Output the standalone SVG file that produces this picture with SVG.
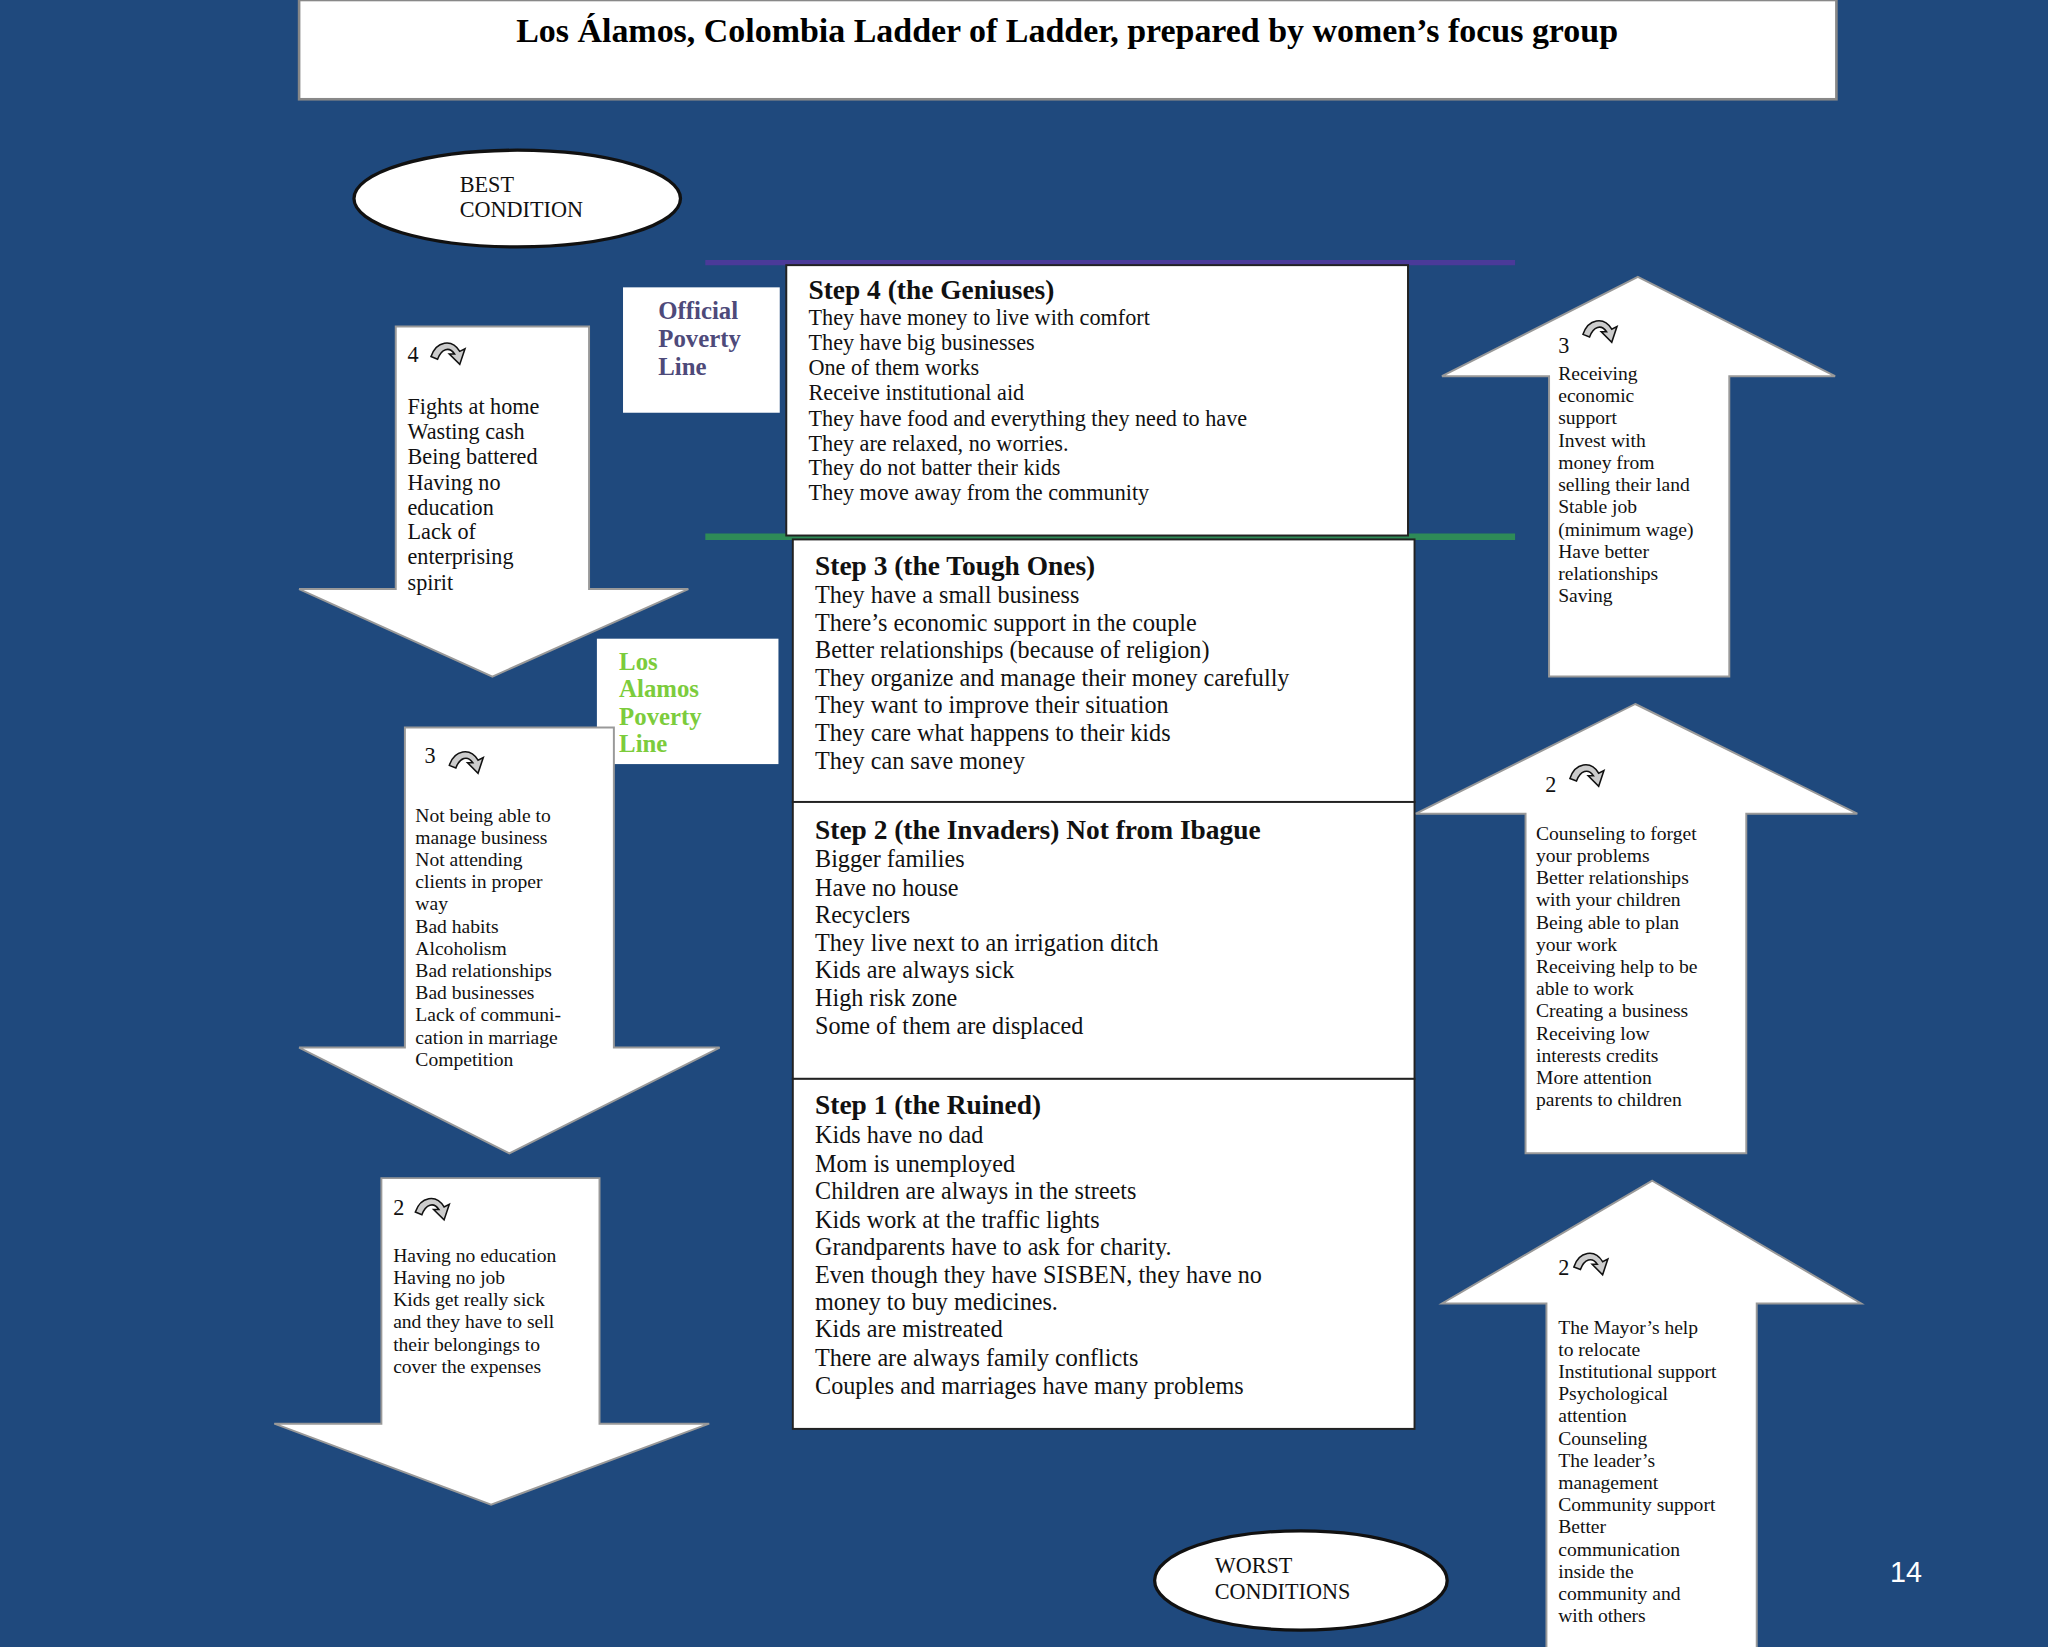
<svg xmlns="http://www.w3.org/2000/svg" width="2048" height="1647" viewBox="0 0 2048 1647">
<defs>
<style>
.t{font-family:"Liberation Serif",serif;fill:#111}
.s15{font-size:15px}.s17{font-size:17px}.s18{font-size:18.5px}
.h{font-size:21px;font-weight:bold}
.box{fill:#fff;stroke:#222;stroke-width:1.5}
.arr{fill:#fff;stroke:#999;stroke-width:1.5}
.ic{fill:#ccc;stroke:#111;stroke-width:1.2}
</style>
<g id="icon"><path class="ic" d="M0,8 C4,-4 16,-6 22,4 L26,2 L22,14 L14,6 L18,6 C14,0 8,2 5,10 Z"/></g>
</defs>
<rect width="2048" height="1647" fill="#1f497d"/>
<g transform="scale(1.30612)">
<g id="title"><rect x="229" y="0" width="1177" height="76" fill="#fff" stroke="#888" stroke-width="2"/>
<text x="817" y="32" text-anchor="middle" font-family="Liberation Serif,serif" font-weight="bold" font-size="26">Los Álamos, Colombia Ladder of Ladder, prepared by women’s focus group</text></g>
<g id="best"><ellipse cx="396" cy="152" rx="125" ry="37" fill="#fff" stroke="#111" stroke-width="2.5"/>
<text class="t s17" x="352" y="147">BEST</text><text class="t s17" x="352" y="166">CONDITION</text></g>
<g id="connectors">
<line x1="540" y1="201" x2="1160" y2="201" stroke="#4b3a99" stroke-width="4"/>
<line x1="540" y1="411" x2="1160" y2="411" stroke="#2e8b57" stroke-width="5"/>
</g>
<g id="step4"><rect class="box" x="602" y="203" width="476" height="207"/>
<text class="t h" x="619" y="229">Step 4 (the Geniuses)</text>
<text class="t s17"><tspan x="619" y="249">They have money to live with comfort</tspan><tspan x="619" y="268">They have big businesses</tspan><tspan x="619" y="287">One of them works</tspan><tspan x="619" y="306">Receive institutional aid</tspan><tspan x="619" y="326">They have food and everything they need to have</tspan><tspan x="619" y="345">They are relaxed, no worries.</tspan><tspan x="619" y="364">They do not batter their kids</tspan><tspan x="619" y="383">They move away from the community</tspan></text></g>
<g id="official"><rect x="477" y="220" width="120" height="96" fill="#fff"/>
<text font-family="Liberation Serif,serif" font-weight="bold" font-size="19" fill="#4e4a7a"><tspan x="504" y="244">Official</tspan><tspan x="504" y="266">Poverty</tspan><tspan x="504" y="287">Line</tspan></text></g>
<g id="step3"><rect class="box" x="607" y="413" width="476" height="201"/>
<text class="t h" x="624" y="440">Step 3 (the Tough Ones)</text>
<text class="t s18"><tspan x="624" y="462">They have a small business</tspan><tspan x="624" y="483">There’s economic support in the couple</tspan><tspan x="624" y="504">Better relationships (because of religion)</tspan><tspan x="624" y="525">They organize and manage their money carefully</tspan><tspan x="624" y="546">They want to improve their situation</tspan><tspan x="624" y="567">They care what happens to their kids</tspan><tspan x="624" y="589">They can save money</tspan></text></g>
<g id="step2"><rect class="box" x="607" y="614" width="476" height="212"/>
<text class="t h" x="624" y="642">Step 2 (the Invaders) Not from Ibague</text>
<text class="t s18"><tspan x="624" y="664">Bigger families</tspan><tspan x="624" y="686">Have no house</tspan><tspan x="624" y="707">Recyclers</tspan><tspan x="624" y="728">They live next to an irrigation ditch</tspan><tspan x="624" y="749">Kids are always sick</tspan><tspan x="624" y="770">High risk zone</tspan><tspan x="624" y="792">Some of them are displaced</tspan></text></g>
<g id="step1"><rect class="box" x="607" y="826" width="476" height="268"/>
<text class="t h" x="624" y="853">Step 1 (the Ruined)</text>
<text class="t s18"><tspan x="624" y="875">Kids have no dad</tspan><tspan x="624" y="897">Mom is unemployed</tspan><tspan x="624" y="918">Children are always in the streets</tspan><tspan x="624" y="940">Kids work at the traffic lights</tspan><tspan x="624" y="961">Grandparents have to ask for charity.</tspan><tspan x="624" y="982">Even though they have SISBEN, they have no</tspan><tspan x="624" y="1003">money to buy medicines.</tspan><tspan x="624" y="1024">Kids are mistreated</tspan><tspan x="624" y="1046">There are always family conflicts</tspan><tspan x="624" y="1067">Couples and marriages have many problems</tspan></text></g>
<g id="losalamos"><rect x="457" y="489" width="139" height="96" fill="#fff"/>
<text font-family="Liberation Serif,serif" font-weight="bold" font-size="19" fill="#7ccc3c"><tspan x="474" y="513">Los</tspan><tspan x="474" y="534">Alamos</tspan><tspan x="474" y="555">Poverty</tspan><tspan x="474" y="576">Line</tspan></text></g>
<g id="down1"><path class="arr" d="M303,250 H451 V451 H527 L377,518 L229,451 H303 Z"/>
<text class="t s17" x="312" y="277">4</text><use href="#icon" x="330" y="265"/>
<text class="t s17"><tspan x="312" y="317">Fights at home</tspan><tspan x="312" y="336">Wasting cash</tspan><tspan x="312" y="355">Being battered</tspan><tspan x="312" y="375">Having no</tspan><tspan x="312" y="394">education</tspan><tspan x="312" y="413">Lack of</tspan><tspan x="312" y="432">enterprising</tspan><tspan x="312" y="452">spirit</tspan></text></g>
<g id="down2"><path class="arr" d="M310,557 H470 V802 H551 L390,883 L229,802 H310 Z"/>
<text class="t s17" x="325" y="584">3</text><use href="#icon" x="344" y="578"/>
<text class="t s15"><tspan x="318" y="629">Not being able to</tspan><tspan x="318" y="646">manage business</tspan><tspan x="318" y="663">Not attending</tspan><tspan x="318" y="680">clients in proper</tspan><tspan x="318" y="697">way</tspan><tspan x="318" y="714">Bad habits</tspan><tspan x="318" y="731">Alcoholism</tspan><tspan x="318" y="748">Bad relationships</tspan><tspan x="318" y="765">Bad businesses</tspan><tspan x="318" y="782">Lack of communi-</tspan><tspan x="318" y="799">cation in marriage</tspan><tspan x="318" y="816">Competition</tspan></text></g>
<g id="down3"><path class="arr" d="M292,902 H459 V1090 H543 L376,1152 L210,1090 H292 Z"/>
<text class="t s17" x="301" y="930">2</text><use href="#icon" x="318" y="920"/>
<text class="t s15"><tspan x="301" y="966">Having no education</tspan><tspan x="301" y="983">Having no job</tspan><tspan x="301" y="1000">Kids get really sick</tspan><tspan x="301" y="1017">and they have to sell</tspan><tspan x="301" y="1034">their belongings to</tspan><tspan x="301" y="1051">cover the expenses</tspan></text></g>
<g id="up1"><path class="arr" d="M1254,212 L1405,288 H1324 V518 H1186 V288 H1104 Z"/>
<text class="t s17" x="1193" y="270">3</text><use href="#icon" x="1212" y="248"/>
<text class="t s15"><tspan x="1193" y="291">Receiving</tspan><tspan x="1193" y="308">economic</tspan><tspan x="1193" y="325">support</tspan><tspan x="1193" y="342">Invest with</tspan><tspan x="1193" y="359">money from</tspan><tspan x="1193" y="376">selling their land</tspan><tspan x="1193" y="393">Stable job</tspan><tspan x="1193" y="410">(minimum wage)</tspan><tspan x="1193" y="427">Have better</tspan><tspan x="1193" y="444">relationships</tspan><tspan x="1193" y="461">Saving</tspan></text></g>
<g id="up2"><path class="arr" d="M1252,539 L1422,623 H1337 V883 H1168 V623 H1084 Z"/>
<text class="t s17" x="1183" y="606">2</text><use href="#icon" x="1202" y="588"/>
<text class="t s15"><tspan x="1176" y="643">Counseling to forget</tspan><tspan x="1176" y="660">your problems</tspan><tspan x="1176" y="677">Better relationships</tspan><tspan x="1176" y="694">with your children</tspan><tspan x="1176" y="711">Being able to plan</tspan><tspan x="1176" y="728">your work</tspan><tspan x="1176" y="745">Receiving help to be</tspan><tspan x="1176" y="762">able to work</tspan><tspan x="1176" y="779">Creating a business</tspan><tspan x="1176" y="796">Receiving low</tspan><tspan x="1176" y="813">interests credits</tspan><tspan x="1176" y="830">More attention</tspan><tspan x="1176" y="847">parents to children</tspan></text></g>
<g id="up3"><path class="arr" d="M1265,904 L1425,998 H1345 V1265 H1184 V998 H1104 Z"/>
<text class="t s17" x="1193" y="976">2</text><use href="#icon" x="1205" y="962"/>
<text class="t s15"><tspan x="1193" y="1021">The Mayor’s help</tspan><tspan x="1193" y="1038">to relocate</tspan><tspan x="1193" y="1055">Institutional support</tspan><tspan x="1193" y="1072">Psychological</tspan><tspan x="1193" y="1089">attention</tspan><tspan x="1193" y="1106">Counseling</tspan><tspan x="1193" y="1123">The leader’s</tspan><tspan x="1193" y="1140">management</tspan><tspan x="1193" y="1157">Community support</tspan><tspan x="1193" y="1174">Better</tspan><tspan x="1193" y="1191">communication</tspan><tspan x="1193" y="1208">inside the</tspan><tspan x="1193" y="1225">community and</tspan><tspan x="1193" y="1242">with others</tspan></text></g>
<g id="worst"><ellipse cx="996" cy="1210" rx="112" ry="38" fill="#fff" stroke="#111" stroke-width="2.5"/>
<text class="t s17" x="930" y="1204">WORST</text><text class="t s17" x="930" y="1224">CONDITIONS</text></g>
<text x="1447" y="1211" font-family="Liberation Sans,sans-serif" font-size="22" fill="#fff">14</text>
</g>
</svg>
